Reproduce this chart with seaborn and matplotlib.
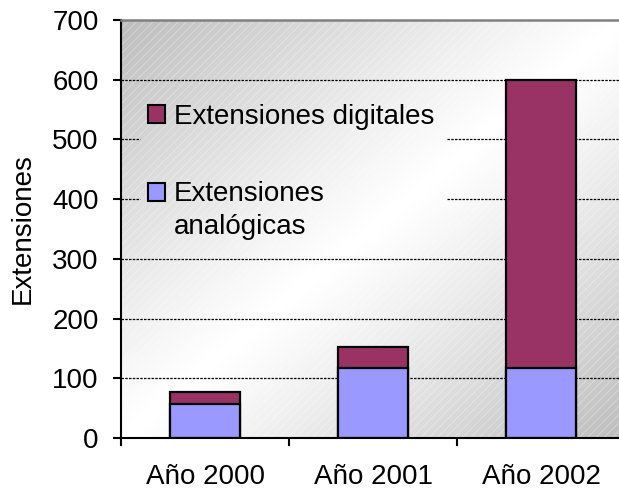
import numpy as np
import pandas as pd
import matplotlib
matplotlib.use("Agg")
import matplotlib.pyplot as plt
import seaborn as sns
from matplotlib.patches import Patch, Rectangle

# data
years = ["Año 2000", "Año 2001", "Año 2002"]
analogicas = [57, 117, 117]
digitales = [20, 35, 483]
y_ticks = [0, 100, 200, 300, 400, 500, 600, 700]

color_dig = "#993366"
color_ana = "#9999FF"

sns.set_theme(style="white")
plt.rcParams["font.family"] = ["Liberation Sans", "DejaVu Sans"]
plt.rcParams["hatch.linewidth"] = 0.6
plt.rcParams["text.color"] = "black"
plt.rcParams["xtick.color"] = "black"
plt.rcParams["ytick.color"] = "black"
plt.rcParams["axes.labelcolor"] = "black"

df = pd.DataFrame({"year": years, "analog": analogicas, "digital": digitales})
df["total"] = df["analog"] + df["digital"]

fig = plt.figure(figsize=(6.19, 4.91), dpi=100)
ax = fig.add_axes([121 / 619, 53 / 491, 504 / 619, 418 / 491])

# diagonal grey-white-grey background
n = 300
u, v = np.meshgrid(np.linspace(0, 1, n), np.linspace(0, 1, n))
t = (u + v) / 2
shade = 1 - 0.26 * np.abs(2 * t - 1) ** 1.1
ax.imshow(shade, cmap="gray", vmin=0, vmax=1, extent=(0, 1, 0, 1),
          transform=ax.transAxes, aspect="auto", zorder=0, interpolation="bilinear")
ax.add_patch(Rectangle((0, 0), 1, 1, transform=ax.transAxes, facecolor="none",
                       edgecolor=(1, 1, 1, 0.35), hatch="////", lw=0, zorder=0.5))

# dotted gridlines, broken where the legend sits
for yv in y_ticks[1:-1]:
    if yv in (400, 500):
        ax.axhline(yv, 0, 0.038, color="black", lw=0.9, ls=(0, (2, 1)), zorder=1)
        ax.axhline(yv, 0.647, 1, color="black", lw=0.9, ls=(0, (2, 1)), zorder=1)
    else:
        ax.axhline(yv, color="black", lw=0.9, ls=(0, (2, 1)), zorder=1)

sns.barplot(data=df, x="year", y="total", color=color_dig, saturation=1, width=0.42,
            edgecolor="black", linewidth=1.6, ax=ax, zorder=2)
sns.barplot(data=df, x="year", y="analog", color=color_ana, saturation=1, width=0.42,
            edgecolor="black", linewidth=1.6, ax=ax, zorder=3)

ax.set_xlim(-0.5, 2.5)
ax.set_ylim(0, 700)
ax.set_yticks(y_ticks)
ax.set_yticklabels([str(v) for v in y_ticks], fontsize=20)
ax.set_xticks([-0.5, 0.5, 1.5, 2.5])
ax.set_xticklabels([])
ax.set_xticks([0, 1, 2], minor=True)
ax.set_xticklabels(years, minor=True, fontsize=20)
ax.tick_params(axis="x", which="minor", length=0, pad=19)
ax.tick_params(axis="x", which="major", direction="out", length=6, width=1.5,
               color="black", bottom=True)
ax.tick_params(axis="y", direction="out", length=6, width=1.5, color="black",
               left=True, pad=10)
ax.set_xlabel("")
ax.set_ylabel("Extensiones", fontsize=20, labelpad=12)

for s in ["left", "bottom"]:
    ax.spines[s].set_color("black")
    ax.spines[s].set_linewidth(1.5)
ax.spines["top"].set_color("#808080")
ax.spines["top"].set_linewidth(1.8)
ax.spines["right"].set_visible(False)
for sp in ax.spines.values():
    sp.set_zorder(4)

handles = [Patch(facecolor=color_dig, edgecolor="black", lw=1.5),
           Patch(facecolor=color_ana, edgecolor="black", lw=1.5)]
leg = ax.legend(handles, ["Extensiones digitales", "Extensiones\nanalógicas"],
                loc="upper left", bbox_to_anchor=(0.054, 0.80), frameon=False,
                fontsize=20, handlelength=0.62, handleheight=0.62, handletextpad=0.3,
                labelspacing=1.86, borderpad=0, borderaxespad=0)
for txt in leg.get_texts():
    txt.set_linespacing(1.35)
# keep the second square level with the first line of its label
sq = leg.get_patches()[1]
sq.set_y(sq.get_y() + 13.5)

fig.savefig("out.png", dpi=100)
